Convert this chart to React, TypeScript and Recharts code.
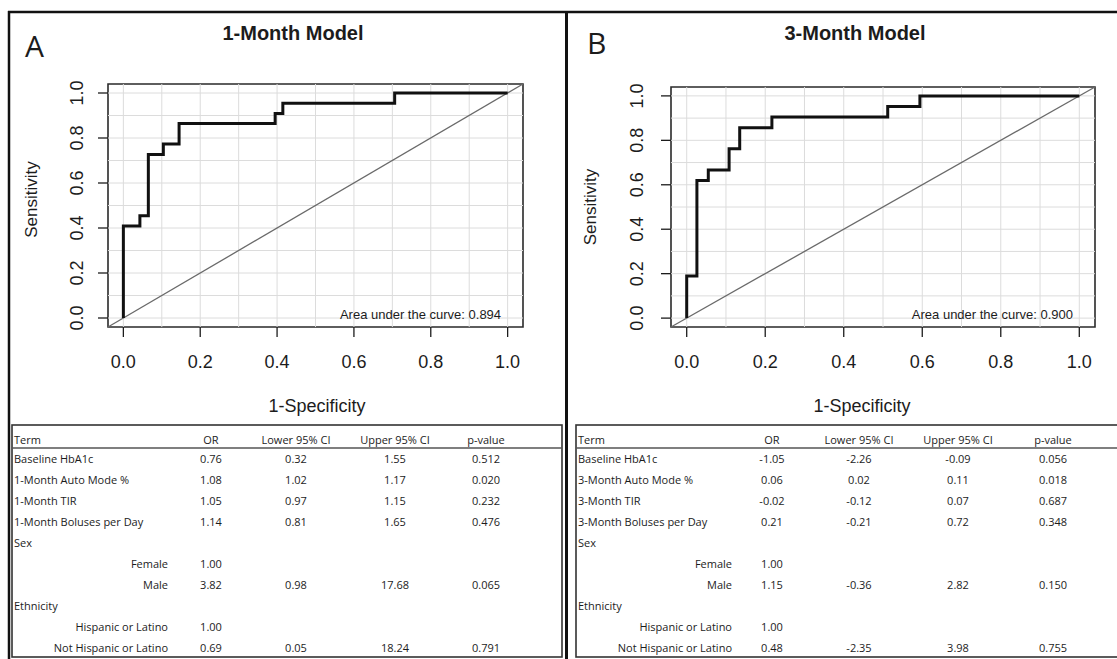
import React from 'react';
import { LineChart, Line, XAxis, YAxis, ReferenceLine, ReferenceArea, ReferenceDot, Label } from 'recharts';

// ---------------- DATA ----------------
const axisTicks = [0, 0.2, 0.4, 0.6, 0.8, 1.0];
const gridValues = [0, 0.1, 0.2, 0.3, 0.4, 0.5, 0.6, 0.7, 0.8, 0.9, 1.0];
const plotDomain: [number, number] = [-0.04, 1.04];

// 1-Month model ROC corner points (1-Specificity, Sensitivity)
const fpr1 = [0, 0, 0.043, 0.043, 0.065, 0.065, 0.104, 0.104, 0.145, 0.145, 0.395, 0.395, 0.415, 0.415, 0.706, 0.706, 1.0];
const tpr1 = [0, 0.409, 0.409, 0.455, 0.455, 0.727, 0.727, 0.773, 0.773, 0.864, 0.864, 0.909, 0.909, 0.955, 0.955, 1.0, 1.0];
// 3-Month model ROC corner points
const fpr3 = [0, 0, 0.026, 0.026, 0.055, 0.055, 0.108, 0.108, 0.135, 0.135, 0.217, 0.217, 0.512, 0.512, 0.594, 0.594, 1.0];
const tpr3 = [0, 0.19, 0.19, 0.619, 0.619, 0.667, 0.667, 0.762, 0.762, 0.857, 0.857, 0.905, 0.905, 0.952, 0.952, 1.0, 1.0];

const auc1 = '0.894';
const auc3 = '0.900';

const panelLetters = ['A', 'B'];
const panelTitles = ['1-Month Model', '3-Month Model'];
const xAxisTitle = '1-Specificity';
const yAxisTitle = 'Sensitivity';

const tableHeaders = ['Term', 'OR', 'Lower 95% CI', 'Upper 95% CI', 'p-value'];
const terms1 = ['Baseline HbA1c', '1-Month Auto Mode %', '1-Month TIR', '1-Month Boluses per Day', 'Sex', 'Female', 'Male', 'Ethnicity', 'Hispanic or Latino', 'Not Hispanic or Latino'];
const terms3 = ['Baseline HbA1c', '3-Month Auto Mode %', '3-Month TIR', '3-Month Boluses per Day', 'Sex', 'Female', 'Male', 'Ethnicity', 'Hispanic or Latino', 'Not Hispanic or Latino'];
const termIndented = [false, false, false, false, false, true, true, false, true, true];
const or1 = ['0.76', '1.08', '1.05', '1.14', '', '1.00', '3.82', '', '1.00', '0.69'];
const lower1 = ['0.32', '1.02', '0.97', '0.81', '', '', '0.98', '', '', '0.05'];
const upper1 = ['1.55', '1.17', '1.15', '1.65', '', '', '17.68', '', '', '18.24'];
const p1 = ['0.512', '0.020', '0.232', '0.476', '', '', '0.065', '', '', '0.791'];
const or3 = ['-1.05', '0.06', '-0.02', '0.21', '', '1.00', '1.15', '', '1.00', '0.48'];
const lower3 = ['-2.26', '0.02', '-0.12', '-0.21', '', '', '-0.36', '', '', '-2.35'];
const upper3 = ['-0.09', '0.11', '0.07', '0.72', '', '', '2.82', '', '', '3.98'];
const p3 = ['0.056', '0.018', '0.687', '0.348', '', '', '0.150', '', '', '0.755'];

// ---------------- STYLE / LAYOUT ----------------
const FONT = '"Liberation Sans", Arial, Helvetica, sans-serif';
const TFONT = '"Open Sans", "Noto Sans", sans-serif';
const INK = '#1c1c1c';

const panelCfgs = [
  {
    left: 0, width: 560, height: 420,
    margin: { top: 84, right: 37, bottom: 3, left: 0 },
    yAxisWidth: 108, xTickMargin: 18, yTickMargin: 15,
    yLabelX: 37, yLabelShift: -6, xLabelShift: 1.5, xLabelDrop: 85,
    aucX: 0.983, aucY: 0.016,
  },
  {
    left: 560, width: 557, height: 420,
    margin: { top: 87, right: 22, bottom: 3, left: 0 },
    yAxisWidth: 111, xTickMargin: 18, yTickMargin: 18,
    yLabelX: 36, yLabelShift: 0, xLabelShift: -21, xLabelDrop: 85,
    aucX: 0.984, aucY: 0.015,
  },
];

const tableCfgs = [
  { boxX: 12, boxW: 550, termX: 14, indentRight: 168, cols: [211, 296, 395, 486], letterX: 25, letterY: 57, titleX: 293 },
  { boxX: 576, boxW: 560, termX: 578, indentRight: 732, cols: [772, 859, 958, 1053], letterX: 587, letterY: 54, titleX: 855 },
];
const TABLE_TOP = 425;
const TABLE_BOTTOM = 657;
const HEADER_LINE = 448;
const HEADER_Y = 439;
const ROW_Y0 = 458;
const ROW_STEP = 21.1;

const XTick = (props: any) => {
  const { x, y, payload } = props;
  return (
    <text x={x} y={y} dy="0.72em" textAnchor="middle" fontSize={18} fontFamily={FONT} fill={INK}>
      {Number(payload.value).toFixed(1)}
    </text>
  );
};

const YTick = (props: any) => {
  const { x, y, payload } = props;
  return (
    <text x={x} y={y} transform={`rotate(-90 ${x} ${y})`} textAnchor="middle" fontSize={18} fontFamily={FONT} fill={INK}>
      {Number(payload.value).toFixed(1)}
    </text>
  );
};

function RocPanel({ fpr, tpr, auc, cfg }: any) {
  const data = fpr.map((f: number, i: number) => ({ fpr: f, tpr: tpr[i] }));
  return (
    <div style={{ position: 'absolute', left: cfg.left, top: 0 }}>
      <LineChart width={cfg.width} height={cfg.height} data={data} margin={cfg.margin}>
        <XAxis
          type="number" dataKey="fpr" domain={plotDomain} ticks={axisTicks} allowDataOverflow interval={0}
          tickSize={10} tickMargin={cfg.xTickMargin} axisLine={false}
          tickLine={{ stroke: INK, strokeWidth: 1.3 }} tick={XTick} height={90}
        >
          <Label
            content={(p: any) => {
              const vb = p.viewBox || { x: 0, y: 0, width: 0, height: 0 };
              return (
                <text x={vb.x + vb.width / 2 + cfg.xLabelShift} y={vb.y + cfg.xLabelDrop} textAnchor="middle" fontSize={18} fontFamily={FONT} fill={INK}>
                  {xAxisTitle}
                </text>
              );
            }}
          />
        </XAxis>
        <YAxis
          type="number" domain={plotDomain} ticks={axisTicks} allowDataOverflow interval={0}
          tickSize={10} tickMargin={cfg.yTickMargin} axisLine={false}
          tickLine={{ stroke: INK, strokeWidth: 1.3 }} tick={YTick} width={cfg.yAxisWidth}
        >
          <Label
            content={(p: any) => {
              const vb = p.viewBox || { x: 0, y: 0, width: 0, height: 0 };
              const lx = vb.x + cfg.yLabelX;
              const ly = vb.y + vb.height / 2 + cfg.yLabelShift;
              return (
                <text x={lx} y={ly} transform={`rotate(-90 ${lx} ${ly})`} textAnchor="middle" fontSize={17} fontFamily={FONT} fill={INK}>
                  {yAxisTitle}
                </text>
              );
            }}
          />
        </YAxis>
        {gridValues.map((v) => (
          <ReferenceLine key={'gx' + v} x={v} stroke="#dcdcdc" strokeWidth={1} />
        ))}
        {gridValues.map((v) => (
          <ReferenceLine key={'gy' + v} y={v} stroke="#dcdcdc" strokeWidth={1} />
        ))}
        <ReferenceLine
          segment={[{ x: plotDomain[0], y: plotDomain[0] }, { x: plotDomain[1], y: plotDomain[1] }]}
          stroke="#6a6a6a" strokeWidth={1.3}
        />
        <ReferenceArea x1={plotDomain[0]} x2={plotDomain[1]} y1={plotDomain[0]} y2={plotDomain[1]} fill="none" fillOpacity={0} stroke="#2a2a2a" strokeWidth={1.6} />
        <Line type="linear" dataKey="tpr" stroke="#111" strokeWidth={3} dot={false} isAnimationActive={false} strokeLinejoin="miter" />
        <ReferenceDot
          x={cfg.aucX} y={cfg.aucY} r={1} fill="none" stroke="none"
          label={(p: any) => {
            const vb = p.viewBox || { x: 0, y: 0, width: 0, height: 0 };
            return (
              <text x={vb.x + vb.width / 2} y={vb.y + vb.height / 2} dy="0.35em" textAnchor="end" fontSize={13} fontFamily={FONT} fill={INK}>
                {`Area under the curve: ${auc}`}
              </text>
            );
          }}
        />
      </LineChart>
    </div>
  );
}

function TableBlock({ cfg, terms, cols }: any) {
  const rows = terms.map((t: string, i: number) => ({ term: t, indent: termIndented[i], vals: cols.map((c: string[]) => c[i]) }));
  return (
    <g fontFamily={TFONT} fontSize={11} fill={INK}>
      <rect x={cfg.boxX} y={TABLE_TOP} width={cfg.boxW} height={TABLE_BOTTOM - TABLE_TOP} fill="none" stroke="#333" strokeWidth={1.6} />
      <line x1={cfg.boxX} x2={cfg.boxX + cfg.boxW} y1={HEADER_LINE} y2={HEADER_LINE} stroke="#555" strokeWidth={1.3} />
      <text x={cfg.termX} y={HEADER_Y} dominantBaseline="central">{tableHeaders[0]}</text>
      {tableHeaders.slice(1).map((h, j) => (
        <text key={h} x={cfg.cols[j]} y={HEADER_Y} dominantBaseline="central" textAnchor="middle">{h}</text>
      ))}
      {rows.map((r: any, i: number) => {
        const y = ROW_Y0 + i * ROW_STEP;
        return (
          <g key={i}>
            {r.indent ? (
              <text x={cfg.indentRight} y={y} dominantBaseline="central" textAnchor="end">{r.term}</text>
            ) : (
              <text x={cfg.termX} y={y} dominantBaseline="central">{r.term}</text>
            )}
            {r.vals.map((v: string, j: number) => (
              v ? <text key={j} x={cfg.cols[j]} y={y} dominantBaseline="central" textAnchor="middle">{v}</text> : null
            ))}
          </g>
        );
      })}
    </g>
  );
}

export default function App() {
  return (
    <div style={{ position: 'absolute', left: 0, top: 0, width: 1117, height: 659, background: '#fff', overflow: 'hidden' }}>
      <RocPanel fpr={fpr1} tpr={tpr1} auc={auc1} cfg={panelCfgs[0]} />
      <RocPanel fpr={fpr3} tpr={tpr3} auc={auc3} cfg={panelCfgs[1]} />
      <svg width={1117} height={659} style={{ position: 'absolute', left: 0, top: 0, pointerEvents: 'none' }}>
        {/* outer frame */}
        <line x1={8} x2={1117} y1={12} y2={12} stroke="#111" strokeWidth={2.5} />
        <line x1={9} x2={9} y1={11} y2={659} stroke="#111" strokeWidth={2.5} />
        <line x1={566.5} x2={566.5} y1={11} y2={659} stroke="#111" strokeWidth={3} />
        {tableCfgs.map((c, k) => (
          <g key={'hdr' + k}>
            <text x={c.letterX} y={c.letterY} fontSize={30} fontFamily={TFONT} fill={INK}>{panelLetters[k]}</text>
            <text x={c.titleX} y={40} fontSize={20} fontWeight="bold" fontFamily={FONT} textAnchor="middle" fill={INK}>{panelTitles[k]}</text>
          </g>
        ))}
        <TableBlock cfg={tableCfgs[0]} terms={terms1} cols={[or1, lower1, upper1, p1]} />
        <TableBlock cfg={tableCfgs[1]} terms={terms3} cols={[or3, lower3, upper3, p3]} />
      </svg>
    </div>
  );
}
